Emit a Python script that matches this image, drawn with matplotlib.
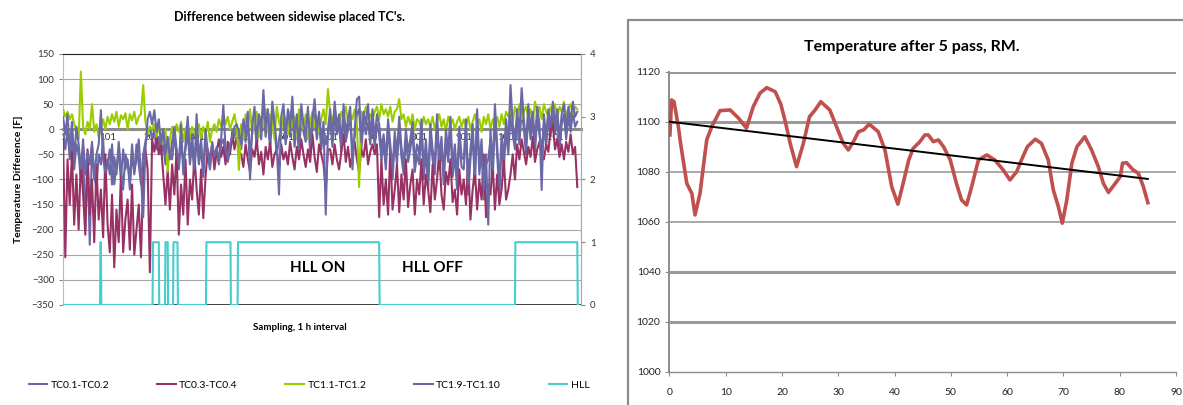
import matplotlib.pyplot as plt
from matplotlib.patches import Rectangle
import numpy as np

plt.rcParams['font.family'] = ['Lato', 'DejaVu Sans']

# ---- левый график: разности между соседними термопарами ----
sample_step = 5
tc01_02 = [
    -10, -40, 0, -60, -20, -80, -30, -50, -100, -40, -200, -60, -230, -30, -90, -120, -50, -70, -20, -100,
    -60, -90, -30, -110, -70, -50, -100, -40, -80, -60, -120, -45, -90, -30, -70, -110, -50, -25, -10, 5,
    -20, 0, -40, -15, -50, -30, -70, -20, -45, -60, -10, -55, -80, -25, -65, -40, -5, -70, -30, -90,
    -10, -70, -40, -95, -20, -55, -80, -35, -60, -45, -70, -30, -20, -50, -65, -40, -25, -10, 0, -15,
    -40, 0, -25, 15, -50, -5, 20, -35, 10, -20, 40, -15, 25, -40, 30, 0, -50, -20, 5, 20,
    -30, 15, -15, 35, -35, 10, -50, 25, -5, -25, 20, -45, 0, 30, -20, 15, -40, 0, -30, -15,
    20, -35, 30, -10, 10, -45, 25, -25, 0, 20, -40, -15, 30, 40, -40, 15, -10, 25, -30, 15,
    -35, 10, -10, -60, -30, -80, 0, -50, -100, -25, -70, 5, -55, -90, -20, -65, -40, -5, -85, -50,
    -70, 0, -100, -40, -120, -10, -60, -90, 10, -80, -35, -110, -20, -65, 5, -95, -50, -120, -15, -75,
    -80, 0, -130, -60, -10, -110, 20, -90, -40, -140, -70, -60, -20, -100, 25, -50, -130, -30, -80, 0,
    -50, 30, -10, -40, 20, -30, 40, 0, -50, 30, -20, 15, -45, 25, -10, -40, 10, -35, 20, -15,
    35, -10, 20, -40, 10, 30, -20, 25, -5, 35, 5, 15,
]
tc03_04 = [
    -20, -255, -60, -150, -45, -190, -90, -200, -60, -130, -210, -40, -170, -100, -225, -70, -180, -120, -215, -50,
    -190, -245, -130, -275, -160, -225, -90, -245, -180, -140, -240, -110, -250, -200, -150, -255, -100, -40, -80, -285,
    -20, -45, -15, -50, -30, -90, -150, -80, -160, -70, -130, -40, -210, -110, -170, -60, -190, -100, -140, -50,
    -120, -170, -80, -177, -95, -40, -60, -30, -80, -45, -20, -55, -35, -70, -25, -50, -5, -40, -15, -45,
    -50, -75, -30, -60, -85, -40, -55, -20, -70, -45, -90, -35, -60, -25, -75, -50, -40, -80, -30, -60,
    -45, -70, -25, -55, -80, -35, -60, -20, -50, -75, -40, -65, -10, -55, -85, -30, -50, -70, -120, -40,
    -40, -70, -30, -60, -80, -45, -10, -65, -35, -75, -50, -25, -60, -85, -40, -55, -20, -70, -45, -30,
    -50, -30, -175, -60, -150, -100, -170, -40, -160, -120, -70, -165, -90, -140, -60, -155, -110, -80, -170, -100,
    -130, -60, -150, -90, -120, -165, -70, -140, -100, -45, -130, -160, -85, -110, -60, -145, -120, -170, -80, -130,
    -100, -150, -60, -180, -120, -80, -160, -100, -140, -50, -175, -110, -130, -70, -160, -90, -150, -120, -60, -140,
    -120, -90, -50, -100, -30, -60, -20, -45, -70, -35, -55, -15, -65, -40, -25, -50, -60, -30, -45, 0,
    10, -40, -20, -55, -30, -60, -25, -45, -10, -50, -35, -115,
]
tc11_12 = [
    40, 25, 35, 20, 30, 10, 0, -20, 115, 5, -10, 15, 0, 50, -5, 10, -15, 5, 20, 0,
    25, 10, 30, 15, 35, 5, 28, 20, 32, 0, 30, 18, 35, 10, 25, 30, 88, 15, -10, 5,
    0, 10, -15, 5, -10, -30, 0, -84, -20, 5, -15, 10, -5, 15, -25, 0, 10, -20, 5, -10,
    -15, 10, -20, 5, -10, 15, -25, 0, 10, -5, 20, 5, 30, 10, 25, 0, 15, 30, 5, -81,
    10, -20, 30, 0, 40, -10, 20, 35, -15, 25, 5, 40, -5, 30, 10, -20, 45, 15, 0, 30,
    20, -10, 35, 5, 25, -15, 40, 10, 0, 30, -20, 15, 35, 5, 25, -5, 20, 40, 10, 80,
    30, 15, 40, 20, 10, 35, 25, 45, 15, 30, 20, 40, 10, -115, 35, 25, 45, 15, 30, 20,
    35, 45, 20, 50, 30, 40, 25, 45, 15, 35, 40, 60, 20, 30, 5, 25, 10, 30, 0, 20,
    15, 0, 25, 10, 20, 5, 25, 0, 15, 30, 5, 20, -5, 25, 10, 20, 0, 15, 25, 5,
    20, 5, 25, 0, 15, 30, 10, 20, -5, 25, 10, 30, 0, 20, 15, 25, 5, 30, 10, 35,
    25, 40, 15, 45, 30, 50, 20, 35, 45, 25, 40, 15, 55, 30, 45, 20, 50, 35, 25, 45,
    30, 50, 20, 45, 35, 55, 25, 40, 50, 30, 45, 40,
]
tc19_110 = [
    25, -10, 30, -40, 15, -60, 5, -30, -80, -20, -90, -45, -70, -25, -100, -50, -30, 38, -60, -85,
    -70, -40, -110, -55, -90, -25, -80, -120, -50, -65, -100, -30, -85, -60, -20, -95, -175, -40, 20, 35,
    10, 38, -5, 20, -30, 0, -50, -15, -60, -25, 5, -40, -70, 10, -90, -30, 25, -55, -10, -80,
    30, -60, -20, -85, 0, -45, -70, -25, -55, -35, -65, -20, 48, -40, -60, -30, -15, 5, 10, -5,
    -30, 20, -10, 35, -100, 10, 45, -20, 30, -5, 78, 0, 40, -25, 55, 15, -35, -130, 25, 50,
    -15, 40, 5, 65, -20, 30, -40, 50, 10, -10, 45, -30, 20, 60, -5, 35, -25, 15, -170, 0,
    40, -20, 55, 5, 30, -30, 50, -10, 20, 45, -80, 0, 60, 65, -25, 35, 10, 50, -15, 40,
    -20, 30, 10, -40, -10, -60, 20, -30, -80, -5, -50, 25, -35, -70, 0, -45, -20, 15, -65, -30,
    -50, 20, -80, -20, -100, 10, -40, -70, 30, -60, -15, -90, 0, -45, 25, -75, -30, -100, 5, -55,
    -60, 20, -110, -40, 10, -90, 40, -70, -20, -120, -50, -190, 0, -80, 50, -30, -114, -10, -60, 20,
    -30, 88, 10, -20, 40, -10, 82, 20, -30, 50, 0, 35, -25, 45, 10, -121, 30, -15, 40, 5,
    55, 10, 40, -20, 30, 50, 0, 45, 15, 55, 25, 35,
]
# HLL: интервалы включения (номер отсчёта начала и конца)
hll_on_start = [85, 203, 231, 249, 323, 394, 1017]
hll_on_end = [86, 216, 236, 258, 377, 711, 1156]
n_samples = 1158
cat_labels = ['1', '101', '201', '301', '401', '501', '601', '701', '801', '901', '1001', '1101']

# ---- правый график: температура после 5 прохода ----
rm_x = [0.1, 0.4, 0.83, 1.6, 2.0, 3.1, 4.0, 4.56, 5.45, 6.04, 6.64, 7.53, 9.0, 10.8, 12.3, 13.7,
        14.9, 16.1, 17.3, 18.8, 19.8, 20.6, 21.5, 22.6, 23.8, 24.9, 25.9, 26.9, 28.5, 29.7, 30.9,
        31.8, 32.7, 33.6, 34.5, 35.5, 37.1, 38.3, 39.5, 40.6, 41.6, 42.5, 43.3, 44.5, 45.4, 46.0,
        46.9, 47.8, 48.7, 49.9, 51.0, 51.9, 52.8, 53.7, 54.9, 56.4, 57.8, 59.3, 60.5, 61.7, 62.6,
        63.6, 65.0, 66.1, 67.3, 68.2, 69.1, 69.8, 70.6, 71.5, 72.4, 73.8, 75.0, 76.2, 77.1, 78.0,
        79.2, 80.1, 80.5, 81.2, 82.4, 83.3, 84.2, 85.0]
rm_y = [1094.7, 1108.7, 1108, 1098, 1091.3, 1075.3, 1071.3, 1062.7, 1071.3, 1082, 1092.7, 1098,
        1104.4, 1104.7, 1101.4, 1097.4, 1106, 1111.4, 1113.6, 1112, 1107, 1100, 1091, 1082, 1091.3,
        1102, 1104.7, 1108, 1104.7, 1098, 1091.3, 1088.7, 1092, 1096, 1096.7, 1099, 1096, 1088.7,
        1074, 1067, 1076, 1084.5, 1089.3, 1092, 1094.7, 1094.7, 1092, 1092.7, 1090, 1084.7, 1075.3,
        1068.7, 1066.7, 1074, 1084.7, 1086.7, 1084.7, 1080.7, 1076.7, 1080, 1085, 1090, 1093,
        1091.3, 1084.7, 1072.7, 1066, 1059.4, 1068.7, 1083.4, 1090, 1094, 1088.7, 1082, 1075.3,
        1071.7, 1075.3, 1078, 1083.4, 1083.6, 1080.7, 1079.4, 1074, 1067.6]
trend_x = [0, 85]
trend_y = [1100, 1077.1]

blue = '#6B68A6'
plum = '#983264'
lime = '#9ACD00'
cyan = '#46CDCD'
narrow = ['Liberation Sans Narrow', 'Lato', 'DejaVu Sans']

fig = plt.figure(figsize=(11.83, 4.05), dpi=100)

ax = fig.add_axes([0.0533, 0.247, 0.4377, 0.6197])
x = np.arange(1, n_samples, sample_step)
l1, = ax.plot(x, tc01_02, color=blue, lw=1.5, zorder=3, label='TC0.1-TC0.2')
l2, = ax.plot(x, tc03_04, color=plum, lw=1.5, zorder=3, label='TC0.3-TC0.4')
l3, = ax.plot(x, tc11_12, color=lime, lw=1.5, zorder=3, label='TC1.1-TC1.2')
l4, = ax.plot(x, tc19_110, color=blue, lw=1.5, zorder=3, label='TC1.9-TC1.10')
ax.set_xlim(1, 1164)
ax.set_ylim(-350, 150)
ax.set_yticks(range(-350, 151, 50))
ax.grid(axis='y', color='#A6A6A6', lw=0.8, zorder=0)
ax.set_axisbelow(True)
ax.axhline(-350, color='#222222', lw=1.2, zorder=4)
ax.set_xticks([int(c) for c in cat_labels])
ax.set_xticklabels(cat_labels)
ax.spines['bottom'].set_position(('data', 0))
ax.spines['bottom'].set_color('#8C8C8C')
ax.spines['bottom'].set_linewidth(2.2)
ax.spines['top'].set_color('#222222')
ax.spines['left'].set_color('#BBBBBB')
ax.spines['right'].set_color('#AAAAAA')
ax.tick_params(axis='x', length=0, pad=3, labelsize=7, colors='#333333')
ax.tick_params(axis='y', length=3, labelsize=7, colors='#333333')
ax.tick_params(axis='y', color='#888888')
ax.set_ylabel('Temperature Difference [F]', fontsize=7.5, fontweight='bold', labelpad=6)

ax2 = ax.twinx()
hll = np.zeros(n_samples)
for a, b in zip(hll_on_start, hll_on_end):
    hll[a - 1:b] = 1
l5, = ax2.plot(np.arange(1, n_samples + 1), hll, color=cyan, lw=1.5, label='HLL')
ax2.set_ylim(0, 4)
ax2.set_yticks([0, 1, 2, 3, 4])
ax2.tick_params(axis='y', length=3, labelsize=7, colors='#333333')
ax2.tick_params(axis='y', color='#888888')
for s in ['top', 'bottom', 'left']:
    ax2.spines[s].set_visible(False)
ax2.spines['right'].set_color('#AAAAAA')

ax.text(574, -276, 'HLL ON', fontsize=11, fontweight='bold', family=narrow,
        ha='center', va='center', zorder=5)
ax.text(830, -276, 'HLL OFF', fontsize=11, fontweight='bold', family=narrow,
        ha='center', va='center', zorder=5)

fig.text(290 / 1183, 1 - 17 / 405, "Difference between sidewise placed TC's.", fontsize=9,
         fontweight='bold', ha='center', va='center')
fig.text(300 / 1183, 1 - 328 / 405, 'Sampling, 1 h interval', fontsize=7, fontweight='bold',
         ha='center', va='center')
fig.legend(handles=[l1, l2, l3, l4, l5], loc='center', bbox_to_anchor=(309 / 1183, 1 - 385 / 405),
           ncol=5, frameon=False, fontsize=7.5, handlelength=1.8, handletextpad=0.3,
           columnspacing=4.6)

# ---- правая панель ----
fig.patches.append(Rectangle((628 / 1183, -0.1), 1.0, 1 - 20 / 405 + 0.1, transform=fig.transFigure,
                             fill=False, edgecolor='#8C8C8C', lw=1.6))
bx = fig.add_axes([0.5658, 0.0822, 0.4283, 0.7408])
bx.plot(rm_x, rm_y, color='#C0504D', lw=2.6, zorder=3)
bx.plot(trend_x, trend_y, color='black', lw=1.4, zorder=4)
bx.set_xlim(0, 90)
bx.set_ylim(1000, 1120)
bx.set_xticks(range(0, 91, 10))
bx.set_yticks(range(1000, 1121, 20))
grid_w = {1020: 2.2, 1040: 2.2, 1060: 1.2, 1080: 1.2, 1100: 2.2, 1120: 2.2}
for yv, w in grid_w.items():
    bx.axhline(yv, color='#9A9A9A', lw=w, zorder=1)
for s in ['top', 'right']:
    bx.spines[s].set_visible(False)
bx.spines['left'].set_color('#8C8C8C')
bx.spines['left'].set_linewidth(1.4)
bx.spines['bottom'].set_color('#8C8C8C')
bx.spines['bottom'].set_linewidth(1.0)
bx.tick_params(axis='both', length=3, labelsize=7.5, colors='#222222')
bx.tick_params(axis='both', color='#8C8C8C')
bx.tick_params(axis='x', pad=9)
fig.text(912 / 1183, 1 - 47 / 405, 'Temperature after 5 pass, RM.', fontsize=11.5,
         fontweight='bold', family=narrow, ha='center', va='center')

fig.savefig('out.png', dpi=100)
